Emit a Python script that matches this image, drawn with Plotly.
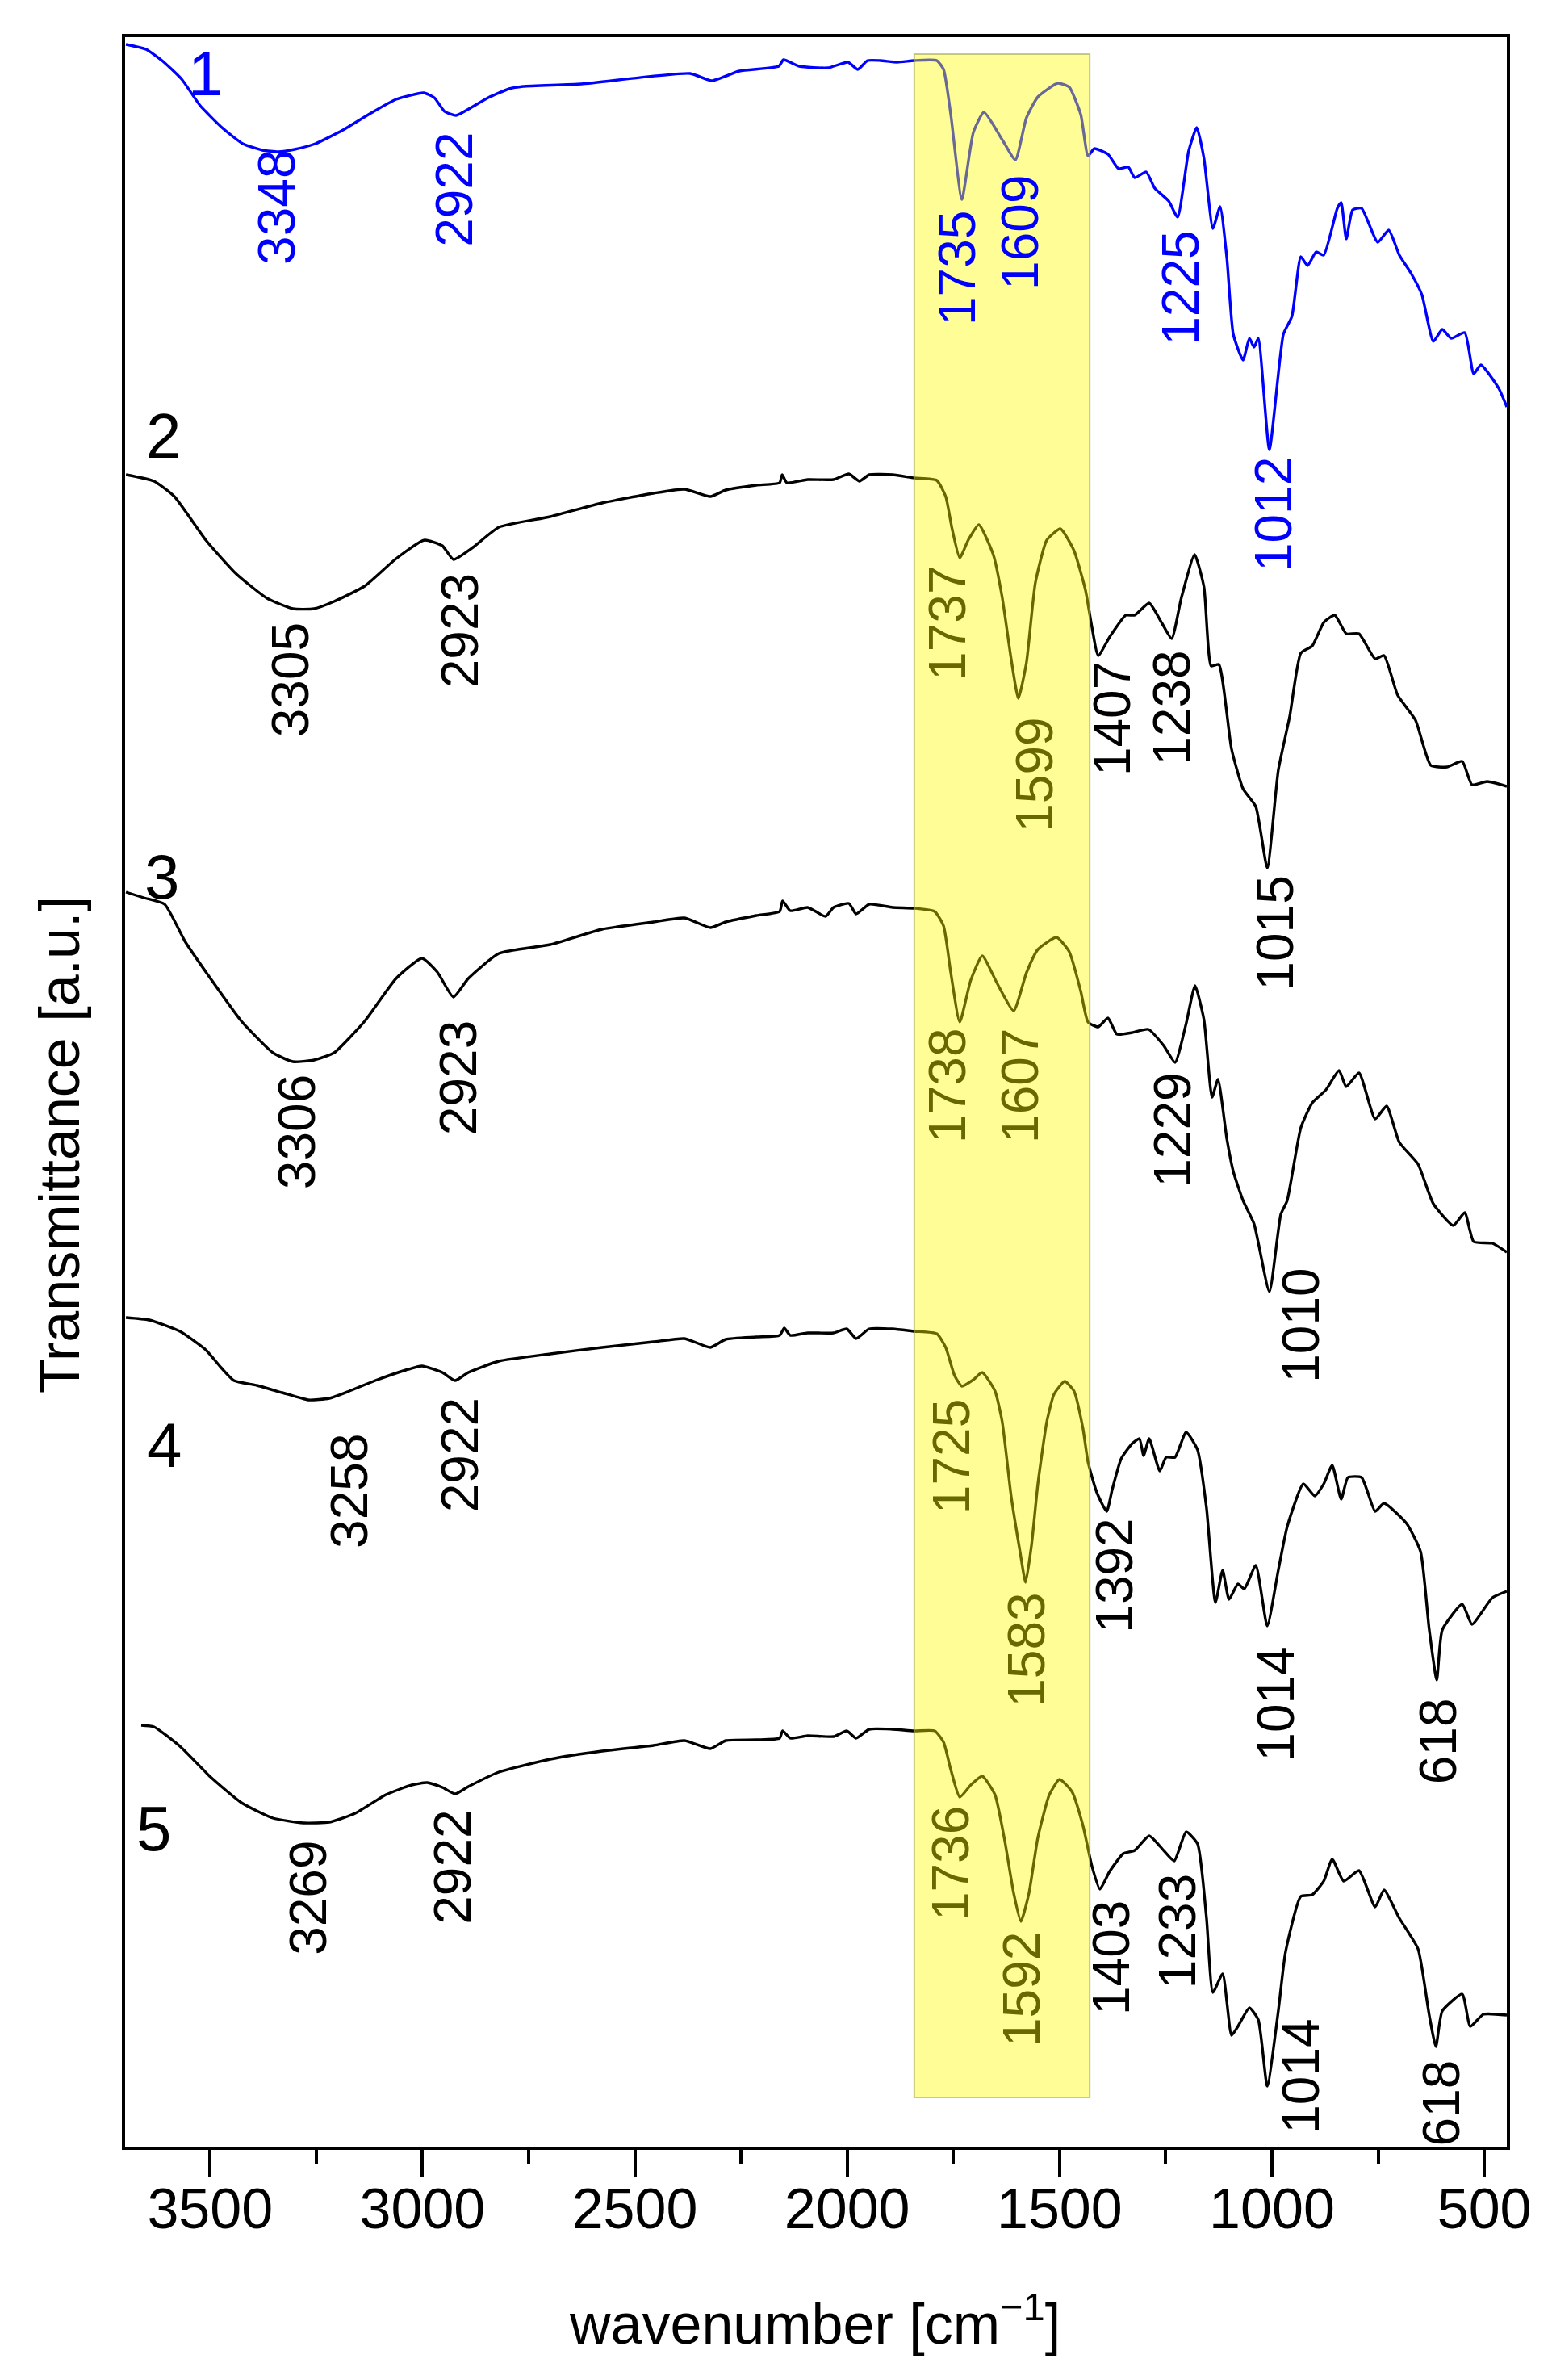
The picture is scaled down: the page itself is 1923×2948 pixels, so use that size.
import plotly.graph_objects as go

# ---------------- data (transmittance in arbitrary, stacked units) ----------------
wn1 = [3698, 3651, 3613, 3567, 3523, 3472, 3423, 3377, 3339, 3301, 3252, 3187, 3124, 3062, 2997, 2972, 2948,
       2921, 2891, 2845, 2796, 2763, 2626, 2370, 2319, 2254, 2161, 2150, 2113, 2045, 1998, 1975, 1952, 1922,
       1882, 1842, 1789, 1773, 1756, 1730, 1703, 1678, 1635, 1604, 1578, 1551, 1504, 1477, 1450, 1433, 1418,
       1386, 1361, 1338, 1323, 1296, 1276, 1243, 1222, 1196, 1177, 1160, 1139, 1122, 1106, 1091, 1068, 1053,
       1042, 1032, 1006, 973, 953, 932, 916, 896, 878, 846, 837, 825, 810, 789, 751, 725, 700, 673, 647, 620,
       599, 578, 546, 525, 508, 466, 447]
t1 = [2604, 2598, 2584, 2561, 2528, 2501, 2481, 2473, 2471, 2474, 2481, 2498, 2518, 2536, 2544, 2538, 2521,
      2516, 2524, 2538, 2549, 2552, 2555, 2568, 2559, 2571, 2577, 2585, 2577, 2575, 2582, 2573, 2584, 2584,
      2582, 2584, 2584, 2573, 2517, 2412, 2495, 2520, 2486, 2461, 2513, 2539, 2556, 2551, 2517, 2466, 2475,
      2468, 2450, 2452, 2439, 2446, 2426, 2410, 2390, 2472, 2501, 2463, 2376, 2403, 2339, 2245, 2213, 2240,
      2229, 2240, 2102, 2245, 2267, 2341, 2330, 2347, 2343, 2401, 2408, 2363, 2399, 2401, 2359, 2374, 2343,
      2321, 2294, 2236, 2251, 2240, 2247, 2196, 2207, 2178, 2155]

wn2 = [3698, 3632, 3584, 3510, 3438, 3366, 3305, 3255, 3208, 3136, 3062, 2995, 2953, 2927, 2881, 2820, 2699,
       2577, 2456, 2383, 2322, 2286, 2214, 2159, 2153, 2142, 2093, 2032, 1996, 1971, 1948, 1893, 1842, 1789,
       1768, 1753, 1735, 1715, 1690, 1656, 1635, 1614, 1597, 1578, 1557, 1530, 1498, 1466, 1439, 1424, 1409,
       1382, 1344, 1323, 1289, 1260, 1236, 1213, 1182, 1160, 1143, 1125, 1095, 1068, 1038, 1011, 985, 958,
       932, 905, 878, 852, 825, 795, 757, 736, 704, 662, 626, 588, 552, 529, 493, 447]
t2 = [2071, 2063, 2044, 1990, 1948, 1918, 1905, 1905, 1914, 1933, 1967, 1990, 1983, 1966, 1981, 2006, 2019,
      2036, 2048, 2053, 2044, 2052, 2058, 2061, 2071, 2061, 2065, 2065, 2072, 2063, 2071, 2071, 2067, 2064,
      2044, 2004, 1968, 1990, 2009, 1972, 1919, 1843, 1794, 1838, 1937, 1990, 2004, 1977, 1928, 1883, 1847,
      1870, 1897, 1897, 1912, 1888, 1868, 1919, 1972, 1932, 1834, 1836, 1731, 1682, 1660, 1584, 1705, 1772,
      1850, 1859, 1888, 1897, 1874, 1874, 1843, 1847, 1798, 1767, 1711, 1709, 1716, 1687, 1691, 1685]

wn3 = [3698, 3656, 3607, 3559, 3499, 3426, 3352, 3305, 3255, 3208, 3136, 3062, 3001, 2965, 2927, 2892, 2820,
       2699, 2577, 2456, 2383, 2322, 2286, 2214, 2159, 2152, 2134, 2093, 2051, 2032, 1996, 1979, 1948, 1893,
       1842, 1794, 1773, 1756, 1735, 1709, 1682, 1646, 1608, 1578, 1551, 1507, 1477, 1450, 1433, 1409, 1386,
       1365, 1329, 1291, 1255, 1228, 1202, 1181, 1160, 1141, 1127, 1106, 1091, 1068, 1042, 1006, 979, 964,
       932, 905, 873, 842, 825, 795, 757, 730, 700, 656, 620, 573, 546, 525, 481, 447]
t3 = [1554, 1547, 1539, 1493, 1447, 1394, 1355, 1344, 1346, 1355, 1394, 1447, 1472, 1455, 1424, 1447, 1478,
      1489, 1508, 1517, 1522, 1510, 1517, 1525, 1530, 1543, 1531, 1535, 1524, 1535, 1540, 1527, 1539, 1535,
      1534, 1530, 1512, 1454, 1393, 1445, 1475, 1440, 1407, 1454, 1483, 1498, 1480, 1431, 1393, 1387, 1398,
      1378, 1380, 1384, 1364, 1343, 1391, 1438, 1396, 1300, 1322, 1248, 1208, 1172, 1143, 1059, 1155, 1172,
      1262, 1293, 1309, 1333, 1313, 1330, 1273, 1289, 1244, 1217, 1168, 1141, 1157, 1121, 1119, 1108]

wn4 = [3698, 3643, 3571, 3510, 3474, 3444, 3390, 3330, 3269, 3219, 3172, 3111, 3039, 3001, 2953, 2923, 2892,
       2820, 2699, 2577, 2456, 2383, 2322, 2286, 2214, 2159, 2148, 2134, 2093, 2032, 2001, 1979, 1948, 1893,
       1842, 1789, 1768, 1747, 1730, 1703, 1682, 1652, 1635, 1614, 1593, 1580, 1566, 1551, 1530, 1513, 1488,
       1466, 1445, 1433, 1412, 1389, 1376, 1355, 1329, 1312, 1302, 1289, 1264, 1249, 1228, 1202, 1175, 1154,
       1133, 1116, 1101, 1080, 1065, 1038, 1011, 985, 964, 926, 899, 878, 858, 837, 821, 789, 757, 736, 683,
       650, 630, 612, 599, 552, 529, 481, 447]
t4 = [1027, 1024, 1010, 987, 965, 949, 943, 934, 925, 927, 936, 949, 962, 967, 959, 949, 959, 973, 982, 990,
      997, 1001, 990, 1000, 1003, 1005, 1014, 1005, 1008, 1008, 1013, 1001, 1013, 1013, 1010, 1007, 990, 955,
      942, 950, 959, 936, 898, 806, 737, 699, 745, 821, 898, 932, 948, 936, 890, 848, 810, 787, 814, 852, 871,
      877, 856, 877, 837, 854, 854, 885, 863, 791, 674, 714, 678, 697, 691, 720, 645, 714, 768, 821, 806, 821,
      844, 802, 829, 829, 787, 797, 772, 737, 642, 578, 640, 672, 647, 680, 688]

wn5 = [3662, 3632, 3571, 3499, 3426, 3352, 3280, 3219, 3158, 3086, 3025, 2989, 2953, 2923, 2892, 2820, 2699,
       2577, 2456, 2383, 2322, 2286, 2214, 2159, 2152, 2134, 2093, 2032, 2001, 1979, 1948, 1893, 1842, 1794,
       1773, 1756, 1735, 1709, 1682, 1652, 1629, 1608, 1591, 1572, 1551, 1524, 1500, 1471, 1445, 1424, 1405,
       1382, 1350, 1323, 1289, 1255, 1230, 1202, 1175, 1154, 1139, 1116, 1095, 1080, 1053, 1032, 1011, 985,
       968, 932, 905, 878, 858, 831, 795, 757, 736, 700, 656, 630, 614, 599, 552, 533, 502, 447]
t5 = [522, 520, 496, 458, 426, 407, 401, 402, 413, 436, 448, 451, 445, 437, 446, 464, 480, 490, 497, 503, 493,
      503, 504, 506, 515, 506, 509, 508, 515, 506, 517, 517, 515, 515, 501, 467, 433, 448, 459, 436, 379, 314,
      279, 314, 383, 436, 455, 440, 398, 348, 319, 341, 363, 367, 385, 367, 354, 390, 375, 283, 191, 214, 138,
      149, 172, 157, 75, 168, 241, 310, 312, 329, 356, 329, 342, 297, 318, 283, 245, 164, 124, 168, 189, 149,
      164, 163]

series_wn = [wn1, wn2, wn3, wn4, wn5]
series_t = [t1, t2, t3, t4, t5]
series_names = ["1", "2", "3", "4", "5"]

# curve number labels (wavenumber, transmittance)
name_wn = [3510, 3609, 3614, 3607, 3633]
name_t = [2568, 2119, 1573, 869, 394]

# peak labels: series index, text, wavenumber (label centre), transmittance (label top)
peak_series = [0, 0, 0, 0, 0, 0,
               1, 1, 1, 1, 1, 1, 1,
               2, 2, 2, 2, 2, 2,
               3, 3, 3, 3, 3, 3, 3,
               4, 4, 4, 4, 4, 4, 4, 4]
peak_text = ["3348", "2922", "1735", "1609", "1225", "1012",
             "3305", "2923", "1737", "1599", "1407", "1238", "1015",
             "3306", "2923", "1738", "1607", "1229", "1010",
             "3258", "2922", "1725", "1583", "1392", "1014", "618",
             "3269", "2922", "1736", "1592", "1403", "1233", "1014", "618"]
peak_wn = [3343, 2925, 1741, 1593, 1215, 996,
           3310, 2911, 1764, 1559, 1376, 1236, 993,
           3295, 2915, 1764, 1593, 1234, 932,
           3172, 2911, 1754, 1578, 1371, 991, 609,
           3269, 2929, 1756, 1589, 1378, 1222, 932, 601]
peak_t = [2475, 2497, 2400, 2444, 2375, 2095,
          1890, 1951, 1960, 1772, 1842, 1855, 1576,
          1330, 1397, 1387, 1387, 1332, 1090,
          885, 930, 928, 688, 780, 621, 558,
          381, 419, 424, 268, 307, 340, 160, 110]

# highlighted region (wavenumber span) and its vertical extent
box_wn = [1842, 1429]
box_t = [61, 2592]

x_range = [3700, 447]
y_range = [0, 2613]

# ---------------- styling ----------------
FONT = "Liberation Sans, Arial, sans-serif"
series_colors = ["#0000ff", "#000000", "#000000", "#000000", "#000000"]
OLIVE = "rgb(104,104,0)"

fig = go.Figure()
for wn, t, nm, col in zip(series_wn, series_t, series_names, series_colors):
    fig.add_trace(go.Scatter(x=wn, y=t, mode="lines", name=nm,
                             line=dict(color=col, width=3.4, shape="spline", smoothing=0.5),
                             showlegend=False, hoverinfo="skip"))

fig.add_shape(type="rect", xref="x", yref="y",
              x0=box_wn[0], x1=box_wn[1], y0=box_t[0], y1=box_t[1],
              fillcolor="rgba(255,252,0,0.41)", line=dict(color="rgba(150,150,100,0.55)", width=2),
              layer="above")

annotations = []
for nm, x, y, col in zip(series_names, name_wn, name_t, series_colors):
    annotations.append(dict(x=x, y=y, xref="x", yref="y", text=nm, showarrow=False,
                            font=dict(family=FONT, size=78, color=col),
                            xanchor="center", yanchor="middle"))

for si, txt, x, y in zip(peak_series, peak_text, peak_wn, peak_t):
    inside = box_wn[1] <= x <= box_wn[0]
    if si == 0:
        col = "#0000ff"
    else:
        col = OLIVE if inside else "#000000"
    annotations.append(dict(x=x, y=y, xref="x", yref="y", text=txt, showarrow=False,
                            textangle=-90, font=dict(family=FONT, size=64, color=col),
                            xanchor="center", yanchor="top"))

annotations.append(dict(x=0.4994, y=-0.0823, xref="paper", yref="paper",
                        text="wavenumber [cm<sup>−1</sup>]", showarrow=False,
                        font=dict(family=FONT, size=70, color="black"),
                        xanchor="center", yanchor="middle"))
annotations.append(dict(x=-0.0473, y=0.4749, xref="paper", yref="paper",
                        text="Transmittance [a.u.]", showarrow=False, textangle=-90,
                        font=dict(family=FONT, size=70, color="black"),
                        xanchor="center", yanchor="middle"))

fig.update_layout(
    width=1923, height=2948,
    margin=dict(l=147, r=64, t=38, b=297),
    paper_bgcolor="white", plot_bgcolor="white",
    font=dict(family=FONT, color="black"),
    annotations=annotations,
    xaxis=dict(range=x_range, showgrid=False, zeroline=False,
               showline=True, linecolor="black", linewidth=4, mirror=True,
               ticks="outside", ticklen=33, tickwidth=4, tickcolor="black",
               tick0=500, dtick=500, ticklabelstandoff=-20,
               minor=dict(ticks="outside", ticklen=17, tickwidth=4, tickcolor="black", dtick=250, tick0=500),
               tickfont=dict(family=FONT, size=70, color="black")),
    yaxis=dict(range=y_range, showgrid=False, zeroline=False,
               showline=True, linecolor="black", linewidth=4, mirror=True,
               ticks="", showticklabels=False),
)

fig.write_html("out.html")
